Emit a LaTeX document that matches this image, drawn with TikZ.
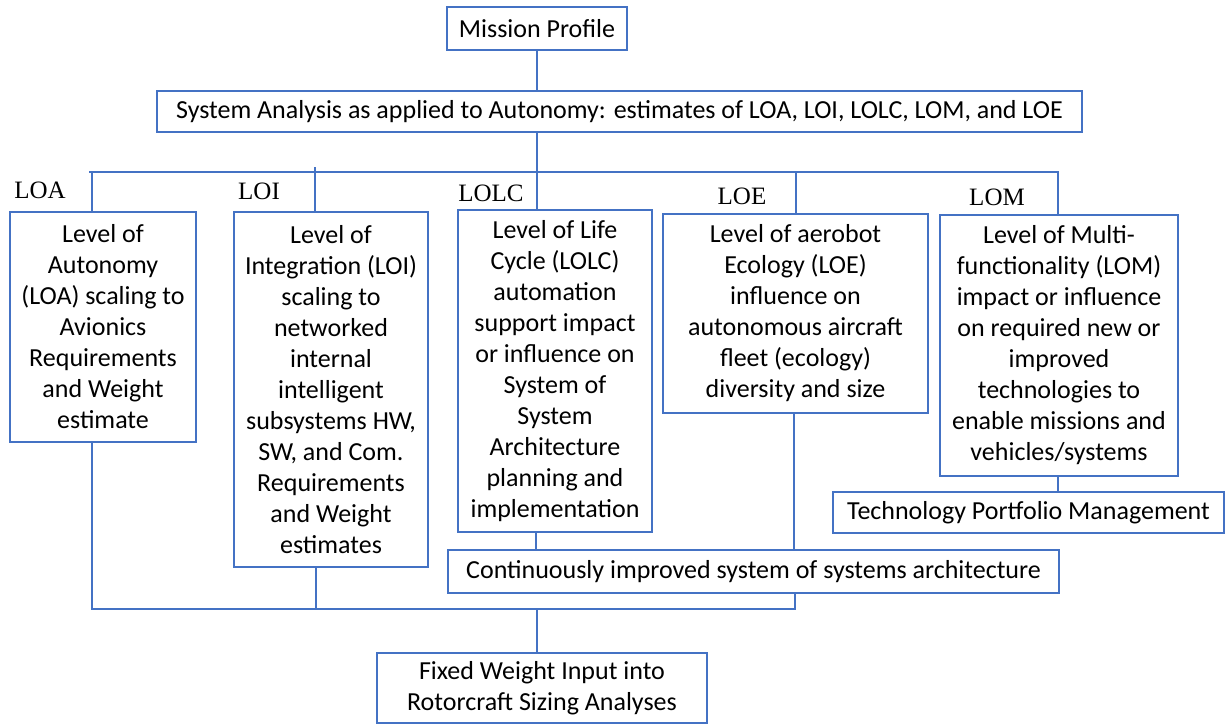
\documentclass[tikz,border=0pt]{standalone}
\usepackage{fontspec}
\setmainfont{Carlito}
\newfontfamily\tagfont{Liberation Serif}
\definecolor{lineblue}{HTML}{4472C4}
\begin{document}
\begin{tikzpicture}[x=1pt,y=-1pt,
  box/.style={draw=lineblue, line width=2.8pt, fill=white, inner sep=0pt,
    align=center, font=\fontsize{26}{31}\selectfont},
  tag/.style={inner sep=0pt, anchor=base, font=\tagfont\fontsize{25}{30}\selectfont},
  link/.style={draw=lineblue, line width=2.8pt}]
\useasboundingbox (0,0) rectangle (1225,725);

% boxes
\node[box, minimum width=180pt, minimum height=43pt] (mp) at (537,28.5) {Mission Profile};
\node[box, minimum width=925pt, minimum height=41pt] (sys) at (619.5,111.5)
  {System Analysis as applied to Autonomy: estimates of LOA, LOI, LOLC, LOM, and LOE};
\node[box, minimum width=186pt, minimum height=230pt] (loa) at (103,327)
  {Level of\\Autonomy\\(LOA) scaling to\\Avionics\\Requirements\\and Weight\\estimate};
\node[box, minimum width=194pt, minimum height=355pt] (loi) at (331,389.5)
  {Level of\\Integration (LOI)\\scaling to\\networked\\internal\\intelligent\\subsystems HW,\\SW, and Com.\\Requirements\\and Weight\\estimates};
\node[box, minimum width=194pt, minimum height=322pt] (lolc) at (555,371)
  {Level of Life\\Cycle (LOLC)\\automation\\support impact\\or influence on\\System of\\System\\Architecture\\planning and\\implementation};
\node[box, minimum width=265pt, minimum height=199pt] (loe) at (795.5,313.5)
  {Level of aerobot\\Ecology (LOE)\\influence on\\autonomous aircraft\\fleet (ecology)\\diversity and size};
\node[box, minimum width=238pt, minimum height=261pt] (lom) at (1059,345.5)
  {Level of Multi-\\functionality (LOM)\\impact or influence\\on required new or\\improved\\technologies to\\enable missions and\\vehicles/systems};
\node[box, minimum width=391pt, minimum height=41pt] (tech) at (1028.5,512.5)
  {Technology Portfolio Management};
\node[box, minimum width=611pt, minimum height=43pt] (cont) at (753.5,571.5)
  {Continuously improved system of systems architecture};
\node[box, minimum width=330pt, minimum height=70pt] (fixed) at (542,688)
  {Fixed Weight Input into\\Rotorcraft Sizing Analyses};

% level tags
\node[tag] (tloa) at (40,198) {LOA};
\node[tag] (tloi) at (259,199) {LOI};
\node[tag] (tlolc) at (491,201) {LOLC};
\node[tag] (tloe) at (742,204) {LOE};
\node[tag] (tlom) at (997,205) {LOM};

% top distribution bus
\coordinate (busL) at (89,172);
\coordinate (busR) at (1058,172);
\coordinate (dA) at (92,172);
\coordinate (dI) at (315,167);
\coordinate (dE) at (796,172);

\draw[link] (mp.south) -- (mp.south |- sys.north);
\draw[link] (mp.south |- sys.south) -- (mp.south |- lolc.north);
\draw[link] (busL) -- (busR) -- (busR |- lom.north);
\draw[link] (dA) -- (dA |- loa.north);
\draw[link] (dI) -- (dI |- loi.north);
\draw[link] (dE) -- (dE |- loe.north);

% lower links
\coordinate (xL) at (536,0);
\coordinate (xE) at (794,0);
\draw[link] (xL |- lolc.south) -- (xL |- cont.north);
\draw[link] (xE |- loe.south) -- (xE |- cont.north);
\draw[link] (busR |- lom.south) -- (busR |- tech.north);

% bottom collecting bus
\coordinate (bA) at (92,609);
\coordinate (bI) at (316,609);
\coordinate (bC) at (795,609);
\coordinate (bF) at (537,609);
\draw[link] (bA |- loa.south) -- (bA) -- (bC) -- (bC |- cont.south);
\draw[link] (bI |- loi.south) -- (bI);
\draw[link] (bF) -- (bF |- fixed.north);
\end{tikzpicture}
\end{document}
